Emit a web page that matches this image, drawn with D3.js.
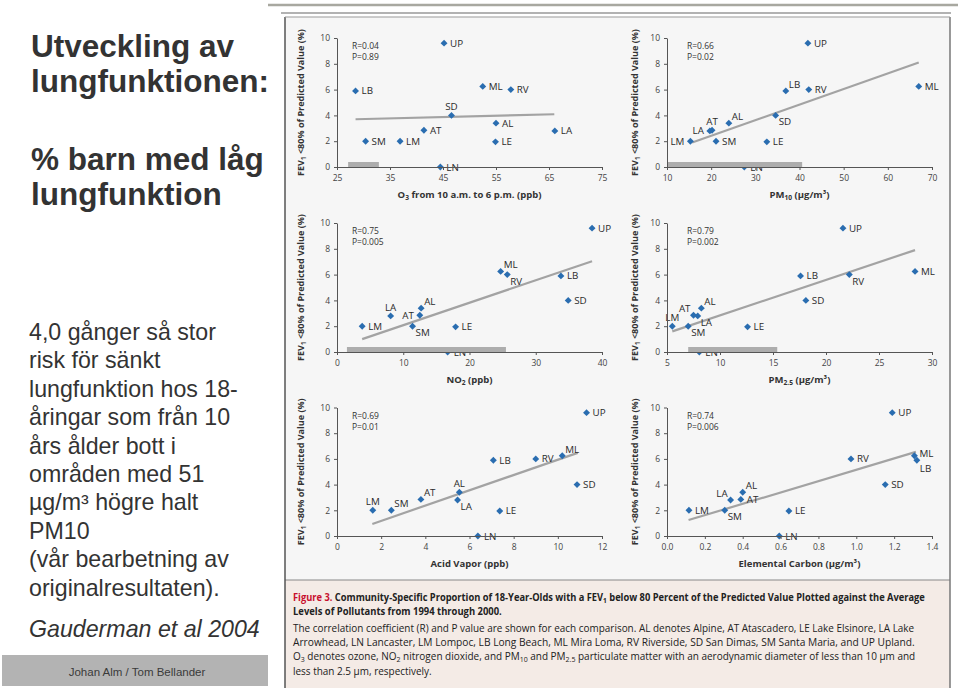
<!DOCTYPE html>
<html><head><meta charset="utf-8">
<script src="https://cdn.jsdelivr.net/npm/d3@7"></script>
<style>body{margin:0;background:#fff;} svg{display:block;}</style>
</head><body>
<svg id="c" width="960" height="688"></svg>
<script>
// ---------------- DATA ----------------
const communities = ["UP","LB","ML","RV","SD","AL","AT","LA","SM","LM","LE","LN"];
const fevBelow80  = [9.6, 5.9, 6.25, 6.0, 4.0, 3.4, 2.85, 2.8, 2.0, 2.0, 1.95, 0.0];
const o3   = [45.2, 28.5, 52.5, 57.8, 46.6, 55.0, 41.4, 66.1, 30.4, 36.9, 54.9, 44.5];
const pm10 = [41.9, 36.9, 67.0, 42.1, 34.6, 24.0, 20.2, 19.7, 21.1, 15.3, 32.6, 27.5];
const no2  = [38.5, 33.8, 24.7, 25.7, 34.9, 12.7, 12.5, 8.1, 11.4, 3.8, 17.9, 16.7];
const pm25 = [21.6, 17.6, 28.4, 22.2, 18.1, 8.24, 7.5, 7.9, 7.0, 5.5, 12.6, 8.05];
const acid = [11.3, 7.08, 10.2, 9.0, 10.87, 5.54, 3.8, 5.46, 2.46, 1.62, 7.37, 6.38];
const ec   = [1.19, 1.32, 1.307, 0.972, 1.153, 0.40, 0.39, 0.336, 0.305, 0.116, 0.644, 0.593];

const o3Trend   = [[28.5, 3.7], [66.0, 4.09]];
const pm10Trend = [[15.7, 1.9], [67.0, 8.1]];
const no2Trend  = [[3.8, 1.0], [38.5, 7.04]];
const pm25Trend = [[5.5, 1.6], [28.4, 7.9]];
const acidTrend = [[1.6, 0.94], [10.9, 6.47]];
const ecTrend   = [[0.114, 1.24], [1.315, 6.55]];

const o3Band   = [27.1, 32.9];
const pm10Band = [10, 40.6];
const no2Band  = [1.5, 25.5];
const pm25Band = [7.0, 15.4];

const rValues = ["0.04", "0.66", "0.75", "0.79", "0.69", "0.74"];
const pValues = ["0.89", "0.02", "0.005", "0.002", "0.01", "0.006"];

const o3Ticks   = [25, 35, 45, 55, 65, 75];
const pm10Ticks = [10, 20, 30, 40, 50, 60, 70];
const no2Ticks  = [0, 10, 20, 30, 40];
const pm25Ticks = [5, 10, 15, 20, 25, 30];
const acidTicks = [0, 2, 4, 6, 8, 10, 12];
const ecTicks   = [0.0, 0.2, 0.4, 0.6, 0.8, 1.0, 1.2, 1.4];
const yTicks    = [0, 2, 4, 6, 8, 10];

const xTitles = ["O_{3} from 10 a.m. to 6 p.m. (ppb)", "PM_{10} (μg/m³)", "NO_{2} (ppb)",
                 "PM_{2.5} (μg/m³)", "Acid Vapor (ppb)", "Elemental Carbon (μg/m³)"];
const yTitle = "FEV_{1} <80% of Predicted Value (%)";

// ---------------- label placement (layout only) ----------------
const placeO3   = {SD:"t"};
const placePM10 = {LB:"tr", SD:"br", AL:"tr", AT:"t", LA:"l", LM:"l"};
const placeNO2  = {ML:"tr", RV:"br", AL:"tr", AT:"l", LA:"t", SM:"br"};
const placePM25 = {AT:"tl", LA:"br", LM:"t", SM:"br", AL:"tr", RV:"br"};
const placeAcid = {ML:"tr", AL:"t", AT:"tr", LA:"br", LM:"t", SM:"tr"};
const placeEC   = {ML:"ru", LB:"bb", AL:"tr", LA:"tl", SM:"br"};

// ---------------- DRAW ----------------
const svg = d3.select("#c");
const SANS = "'Liberation Sans', Arial, Helvetica, sans-serif";
const FIG = "'Open Sans', 'Noto Sans', sans-serif";

function rich(sel, s, fs) {
  const parts = s.split(/(_\{[^}]*\})/).filter(p => p);
  let shifted = false;
  parts.forEach(p => {
    if (p.startsWith("_{")) {
      sel.append("tspan").attr("dy", fs * 0.22).attr("font-size", fs * 0.7).text(p.slice(2, -1));
      shifted = true;
    } else {
      const t = sel.append("tspan").text(p);
      if (shifted) { t.attr("dy", -fs * 0.22); shifted = false; }
    }
  });
  return sel;
}
// horizontally squeeze a text (placed at origin) to a target width
function fit(sel, target, base) {
  const w = sel.node().getComputedTextLength();
  const sx = w > 0 ? target / w : 1;
  sel.attr("transform", base + ` scale(${sx},1)`);
}

// left text
const left = svg.append("g").attr("font-family", SANS).attr("fill", "#333");
[["Utveckling av", 57], ["lungfunktionen:", 92], ["% barn med låg", 170], ["lungfunktion", 205]]
  .forEach(([t, yy]) => left.append("text").attr("x", 31).attr("y", yy)
    .attr("font-size", 31.5).attr("font-weight", "bold").text(t));
const bodyLines = ["4,0 gånger så stor", "risk för sänkt", "lungfunktion hos 18-", "åringar som från 10",
  "års ålder bott i", "områden med 51", "µg/m³ högre halt", "PM10", "(vår bearbetning av", "originalresultaten)."];
bodyLines.forEach((t, i) => left.append("text").attr("x", 29).attr("y", 340 + i * 28.4)
  .attr("font-size", 23.2).text(t));
left.append("text").attr("x", 29).attr("y", 637).attr("font-size", 23.2)
  .attr("font-style", "italic").text("Gauderman et al 2004");

// footer
svg.append("rect").attr("x", 2).attr("y", 655).attr("width", 266).attr("height", 31).attr("fill", "#b3b3b3");
svg.append("text").attr("x", 137).attr("y", 676).attr("text-anchor", "middle")
  .attr("font-family", SANS).attr("font-size", 11.5).attr("fill", "#3a3a3a").text("Johan Alm / Tom Bellander");

// figure frame
svg.append("line").attr("x1", 268).attr("x2", 958).attr("y1", 5).attr("y2", 5)
  .attr("stroke", "#a8a8a0").attr("stroke-width", 2.5);
svg.append("line").attr("x1", 281).attr("x2", 951).attr("y1", 13).attr("y2", 13)
  .attr("stroke", "#666").attr("stroke-width", 1.2);
svg.append("rect").attr("x", 285).attr("y", 17).attr("width", 665).attr("height", 563).attr("fill", "#f6f6f6");
svg.append("rect").attr("x", 285).attr("y", 580).attr("width", 665).attr("height", 108).attr("fill", "#f4ebe6");
svg.append("line").attr("x1", 285).attr("x2", 950).attr("y1", 580).attr("y2", 580).attr("stroke", "#888").attr("stroke-width", 1);
svg.append("line").attr("x1", 285).attr("x2", 285).attr("y1", 17).attr("y2", 688).attr("stroke", "#555").attr("stroke-width", 1.5);
svg.append("line").attr("x1", 950).attr("x2", 950).attr("y1", 17).attr("y2", 688).attr("stroke", "#777").attr("stroke-width", 1.5);
svg.append("line").attr("x1", 285).attr("x2", 950).attr("y1", 17).attr("y2", 17).attr("stroke", "#999").attr("stroke-width", 1);

// panels
const L = {x0: 337, x1: 602, titleX: 301, rx: 352};
const R = {x0: 667, x1: 932, titleX: 635, rx: 687};
const rows = [{y0: 167, y1: 38}, {y0: 352, y1: 223}, {y0: 536, y1: 407.5}];

const panels = [
  {col: L, row: rows[0], xs: o3,   domain: [25, 75],  ticks: o3Ticks,   fmt: d3.format("d"),   trend: o3Trend,   band: o3Band,   place: placeO3},
  {col: R, row: rows[0], xs: pm10, domain: [10, 70],  ticks: pm10Ticks, fmt: d3.format("d"),   trend: pm10Trend, band: pm10Band, place: placePM10},
  {col: L, row: rows[1], xs: no2,  domain: [0, 40],   ticks: no2Ticks,  fmt: d3.format("d"),   trend: no2Trend,  band: no2Band,  place: placeNO2},
  {col: R, row: rows[1], xs: pm25, domain: [5, 30],   ticks: pm25Ticks, fmt: d3.format("d"),   trend: pm25Trend, band: pm25Band, place: placePM25},
  {col: L, row: rows[2], xs: acid, domain: [0, 12],   ticks: acidTicks, fmt: d3.format("d"),   trend: acidTrend, band: null,     place: placeAcid},
  {col: R, row: rows[2], xs: ec,   domain: [0, 1.4],  ticks: ecTicks,   fmt: d3.format(".1f"), trend: ecTrend,   band: null,     place: placeEC}
];

const offsets = {
  r:  {dx: 6,  dy: 3.5, a: "start"},
  ru: {dx: 5,  dy: 1,   a: "start"},
  l:  {dx: -6, dy: 3.5, a: "end"},
  t:  {dx: 0,  dy: -5,  a: "middle"},
  tr: {dx: 3,  dy: -3,  a: "start"},
  tl: {dx: -3, dy: -3,  a: "end"},
  br: {dx: 3,  dy: 10,  a: "start"},
  bb: {dx: 3,  dy: 12,  a: "start"}
};

panels.forEach((p, pi) => {
  const x = d3.scaleLinear().domain(p.domain).range([p.col.x0, p.col.x1]);
  const y = d3.scaleLinear().domain([0, 10]).range([p.row.y0, p.row.y1]);
  const g = svg.append("g").attr("font-family", FIG);
  const pts = communities.map((c, i) => ({c, x: p.xs[i], y: fevBelow80[i]}));

  g.append("line")
    .attr("x1", x(p.trend[0][0])).attr("y1", y(p.trend[0][1]))
    .attr("x2", x(p.trend[1][0])).attr("y2", y(p.trend[1][1]))
    .attr("stroke", "#a3a3a3").attr("stroke-width", 2.2);

  g.selectAll("text.lab").data(pts).join("text").attr("class", "lab")
    .each(function(d) {
      const o = offsets[p.place[d.c] || "r"];
      d3.select(this).attr("x", x(d.x) + o.dx).attr("y", y(d.y) + o.dy).attr("text-anchor", o.a);
    })
    .attr("font-size", 9.8).attr("fill", "#2b2b2b").text(d => d.c);

  g.selectAll("path.pt").data(pts).join("path").attr("class", "pt")
    .attr("d", d3.symbol(d3.symbolSquare, 24))
    .attr("transform", d => `translate(${x(d.x)},${y(d.y)}) rotate(45)`)
    .attr("fill", "#2a6db0");

  if (p.band) {
    g.append("rect").attr("x", x(p.band[0])).attr("width", x(p.band[1]) - x(p.band[0]))
      .attr("y", p.row.y0 - 5).attr("height", 5).attr("fill", "#adadad");
  }

  const xa = g.append("g").attr("transform", `translate(0,${p.row.y0})`)
    .call(d3.axisBottom(x).tickValues(p.ticks).tickFormat(p.fmt).tickSize(3).tickSizeOuter(0));
  const ya = g.append("g").attr("transform", `translate(${p.col.x0},0)`)
    .call(d3.axisLeft(y).tickValues(yTicks).tickSize(3).tickSizeOuter(0));
  [xa, ya].forEach(a => {
    a.select(".domain").attr("stroke", "#555");
    a.selectAll(".tick line").attr("stroke", "#555");
    a.selectAll(".tick text").attr("fill", "#444").attr("font-size", 8.5).attr("font-family", FIG);
  });
  xa.selectAll(".tick text").attr("dy", "0.9em");
  ya.selectAll(".tick text").attr("dx", "-1");

  const xt = g.append("text").attr("x", (p.col.x0 + p.col.x1) / 2).attr("y", p.row.y0 + 31)
    .attr("text-anchor", "middle").attr("font-size", 9.5).attr("font-weight", "bold").attr("fill", "#333");
  rich(xt, xTitles[pi], 9.5);

  const yt = g.append("text").attr("x", 0).attr("y", 0)
    .attr("text-anchor", "middle").attr("font-size", 9.5).attr("font-weight", "bold").attr("fill", "#333");
  rich(yt, yTitle, 9.5);
  fit(yt, 147, `translate(${p.col.titleX + 3},${(p.row.y0 + p.row.y1) / 2}) rotate(-90)`);

  g.append("text").attr("x", p.col.rx).attr("y", p.row.y1 + 11).attr("font-size", 8.5).attr("fill", "#333")
    .text("R=" + rValues[pi]);
  g.append("text").attr("x", p.col.rx).attr("y", p.row.y1 + 22).attr("font-size", 8.5).attr("fill", "#333")
    .text("P=" + pValues[pi]);
});

// caption
const cap = svg.append("g").attr("font-family", FIG).attr("fill", "#222");
const c1 = cap.append("text").attr("x", 0).attr("y", 0).attr("font-size", 10.5).attr("font-weight", "bold");
c1.append("tspan").attr("fill", "#c8102e").text("Figure 3. ");
rich(c1, "Community-Specific Proportion of 18-Year-Olds with a FEV_{1} below 80 Percent of the Predicted Value Plotted against the Average", 10.5);
fit(c1, 633, "translate(293,601)");
const c2 = cap.append("text").attr("x", 0).attr("y", 0).attr("font-size", 10.5).attr("font-weight", "bold")
  .text("Levels of Pollutants from 1994 through 2000.");
fit(c2, 209, "translate(293,615)");
const capLines = [
  ["The correlation coefficient (R) and P value are shown for each comparison. AL denotes Alpine, AT Atascadero, LE Lake Elsinore, LA Lake", 632, 622],
  ["Arrowhead, LN Lancaster, LM Lompoc, LB Long Beach, ML Mira Loma, RV Riverside, SD San Dimas, SM Santa Maria, and UP Upland.", 646, 622],
  ["O_{3} denotes ozone, NO_{2} nitrogen dioxide, and PM_{10} and PM_{2.5} particulate matter with an aerodynamic diameter of less than 10 μm and", 660, 623],
  ["less than 2.5 μm, respectively.", 675, 139]
];
capLines.forEach(([t, yy, w]) => {
  const e = cap.append("text").attr("x", 0).attr("y", 0).attr("font-size", 10.5);
  rich(e, t, 10.5);
  fit(e, w, `translate(293,${yy})`);
});
</script>
</body></html>
